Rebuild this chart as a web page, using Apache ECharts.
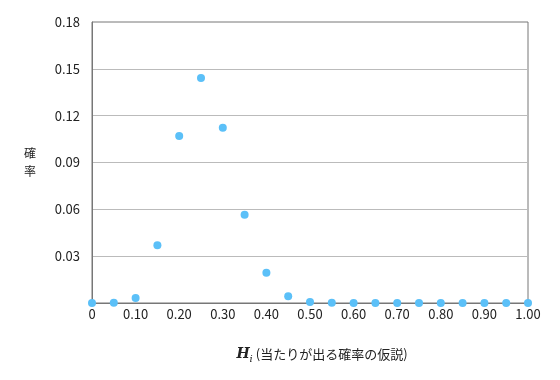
<!DOCTYPE html>
<html>
<head>
<meta charset="utf-8">
<script src="https://cdn.jsdelivr.net/npm/echarts@6/dist/echarts.min.js"></script>
<style>html,body{margin:0;padding:0;background:#fff}#c{width:560px;height:380px}</style>
</head>
<body>
<div id="c"></div>
<script>
const hypotheses = [0, 0.05, 0.10, 0.15, 0.20, 0.25, 0.30, 0.35, 0.40, 0.45, 0.50, 0.55, 0.60, 0.65, 0.70, 0.75, 0.80, 0.85, 0.90, 0.95, 1.00];
const probabilities = [0, 0.0001, 0.0032, 0.0370, 0.1070, 0.1441, 0.1123, 0.0566, 0.0194, 0.0043, 0.0006, 0.0001, 0, 0, 0, 0, 0, 0, 0, 0, 0];
const yAxisName = '確\n率';
const xAxisSymbol = 'H';
const xAxisSub = 'i';
const xAxisText = '(当たりが出る確率の仮説)';

const chart = echarts.init(document.getElementById('c'), null, {renderer: 'canvas'});
const font = '"Noto Sans CJK JP", "Noto Sans", sans-serif';
chart.setOption({
  animation: false,
  grid: {left: 92, right: 32, top: 22, bottom: 77, show: true, borderColor: '#777', borderWidth: 1, backgroundColor: 'transparent'},
  xAxis: {
    type: 'value', min: 0, max: 1, interval: 0.1,
    axisLine: {show: true, lineStyle: {color: '#777'}},
    axisTick: {show: false},
    splitLine: {show: false},
    axisLabel: {color: '#222', fontSize: 13, fontFamily: font, margin: 5,
      formatter: v => v === 0 ? '0' : v.toFixed(2)},
    name: '{h|' + xAxisSymbol + '}{i|' + xAxisSub + '}{t|' + xAxisText + '}',
    nameLocation: 'middle', nameGap: 42,
    nameTextStyle: {
      padding: [0, 0, 0, 24],
      rich: {
        h: {fontFamily: '"DejaVu Serif", serif', fontStyle: 'italic', fontWeight: 'bold', fontSize: 14, color: '#222'},
        i: {fontFamily: '"DejaVu Serif", serif', fontStyle: 'italic', fontSize: 10, color: '#222', padding: [9, 3, 0, 0]},
        t: {fontFamily: font, fontSize: 13, color: '#222'}
      }
    }
  },
  yAxis: {
    type: 'value', min: 0, max: 0.18, interval: 0.03,
    axisLine: {show: true, lineStyle: {color: '#777'}},
    axisTick: {show: false},
    splitLine: {show: true, showMaxLine: false, showMinLine: false, lineStyle: {color: '#bbb'}},
    axisLabel: {color: '#222', fontSize: 13, fontFamily: font, margin: 12,
      formatter: v => v === 0 ? '' : v.toFixed(2)},
    name: yAxisName, nameLocation: 'middle', nameRotate: 0, nameGap: 56,
    nameTextStyle: {fontFamily: font, fontSize: 12, color: '#222', lineHeight: 18}
  },
  series: [{
    type: 'scatter',
    data: hypotheses.map((h, i) => [h, probabilities[i]]),
    symbolSize: 8,
    itemStyle: {color: '#5bc0f8', opacity: 1},
    clip: false
  }]
});
</script>
</body>
</html>
